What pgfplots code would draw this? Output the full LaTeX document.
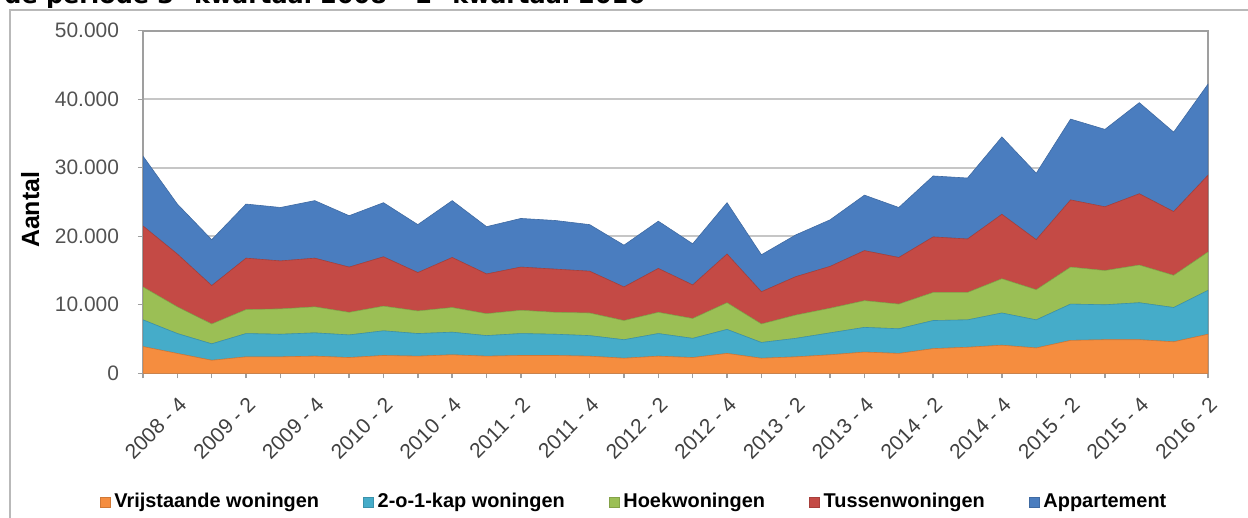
\documentclass[border=0pt]{standalone}
\usepackage{fontspec}
\setmainfont{Liberation Sans}
\newfontfamily\titlefont{DejaVu Sans}
\usepackage{pgfplots}
\usepackage{pgfplotstable}
\pgfplotsset{compat=1.18}
\definecolor{cVr}{HTML}{F58D3F}
\definecolor{cKap}{HTML}{45ACC9}
\definecolor{cHoek}{HTML}{9BBF55}
\definecolor{cTus}{HTML}{C44A45}
\definecolor{cApp}{HTML}{4A7DBF}
\pgfplotstableread{
x vr kap hoek tus app
0 3900 3900 4800 8900 10200
1 2900 2900 3900 7700 7300
2 1900 2400 2900 5600 6700
3 2400 3400 3500 7500 7900
4 2400 3300 3700 7000 7800
5 2500 3400 3800 7100 8400
6 2300 3300 3300 6600 7500
7 2600 3600 3600 7200 7900
8 2500 3300 3300 5600 7000
9 2700 3300 3600 7300 8300
10 2500 3000 3200 5800 6900
11 2600 3200 3400 6300 7100
12 2600 3100 3200 6300 7100
13 2500 3000 3300 6100 6800
14 2200 2700 2800 4900 6100
15 2500 3300 3100 6400 6900
16 2300 2800 2900 4900 6000
17 2900 3500 3900 7100 7500
18 2200 2300 2700 4700 5400
19 2400 2700 3400 5600 6100
20 2700 3200 3600 6100 6800
21 3100 3600 3900 7300 8100
22 2900 3600 3600 6800 7300
23 3600 4100 4100 8100 8900
24 3800 4000 4000 7800 8900
25 4100 4700 5000 9400 11300
26 3700 4100 4400 7300 9700
27 4800 5300 5400 9800 11800
28 4900 5100 5000 9300 11300
29 4900 5400 5500 10400 13300
30 4600 5000 4700 9300 11600
31 5700 6400 5600 11200 13300
}\data
\begin{document}
\begin{tikzpicture}
\useasboundingbox (0bp,0bp) rectangle (624bp,259bp);
\draw[gray!55, line width=0.9bp] (5bp,-5bp) -- (5bp,254bp) -- (630bp,254bp);
\node[anchor=base west, inner sep=0pt, font=\titlefont\bfseries\fontsize{12}{14}\selectfont] at (2bp,257bp) {de periode 3\textsuperscript{e} kwartaal 2008 – 2\textsuperscript{e} kwartaal 2016};
\begin{axis}[
  at={(71.5bp,72.35bp)}, anchor=south west,
  scale only axis, width=532.5bp, height=171.3bp,
  xmin=0, xmax=31, ymin=0, ymax=50000,
  stack plots=y,
  axis line style={draw=gray!75, line width=0.8bp},
  ymajorgrids, grid style={draw=gray!45, line width=0.9bp},
  ytick={0,10000,...,50000},
  xtick={1,3,...,31},
  minor xtick={0,2,...,30},
  xticklabels={2008 - 4,2009 - 2,2009 - 4,2010 - 2,2010 - 4,2011 - 2,2011 - 4,2012 - 2,2012 - 4,2013 - 2,2013 - 4,2014 - 2,2014 - 4,2015 - 2,2015 - 4,2016 - 2},
  xtick pos=bottom, ytick pos=left, tick align=outside,
  major tick length=2.5bp, minor tick length=2.5bp,
  tick style={draw=gray!75, line width=0.7bp},
  scaled y ticks=false,
  /pgf/number format/1000 sep={.},
  /pgf/number format/assume math mode=true,
  yticklabel style={font=\fontsize{10.5}{12}\selectfont, text=black!68, xshift=-6bp},
  xticklabel style={font=\fontsize{10.5}{12}\selectfont, text=black!75, rotate=45, anchor=east, inner sep=0pt, yshift=-10bp, xshift=-6bp},
  ylabel={Aantal},
  ylabel style={at={(axis description cs:-0.106,0.477)}, anchor=center, font=\bfseries\fontsize{12.5}{14}\selectfont},
  legend columns=5,
  legend style={at={(axis description cs:0.462,-0.376)}, anchor=center, draw=none, fill=none, font=\bfseries\fontsize{10}{12}\selectfont, /tikz/every even column/.append style={column sep=20bp}},
  legend image code/.code={\fill[#1] (0bp,-2.5bp) rectangle (5bp,2.5bp);},
]
\addplot[fill=cVr, draw=cVr!85!black, line width=0.3bp] table[x=x,y=vr]{\data} \closedcycle;
\addlegendentry{Vrijstaande woningen}
\addplot[fill=cKap, draw=cKap!85!black, line width=0.3bp] table[x=x,y=kap]{\data} \closedcycle;
\addlegendentry{2-o-1-kap woningen}
\addplot[fill=cHoek, draw=cHoek!85!black, line width=0.3bp] table[x=x,y=hoek]{\data} \closedcycle;
\addlegendentry{Hoekwoningen}
\addplot[fill=cTus, draw=cTus!85!black, line width=0.3bp] table[x=x,y=tus]{\data} \closedcycle;
\addlegendentry{Tussenwoningen}
\addplot[fill=cApp, draw=cApp!85!black, line width=0.3bp] table[x=x,y=app]{\data} \closedcycle;
\addlegendentry{Appartement}
\end{axis}
\end{tikzpicture}
\end{document}
